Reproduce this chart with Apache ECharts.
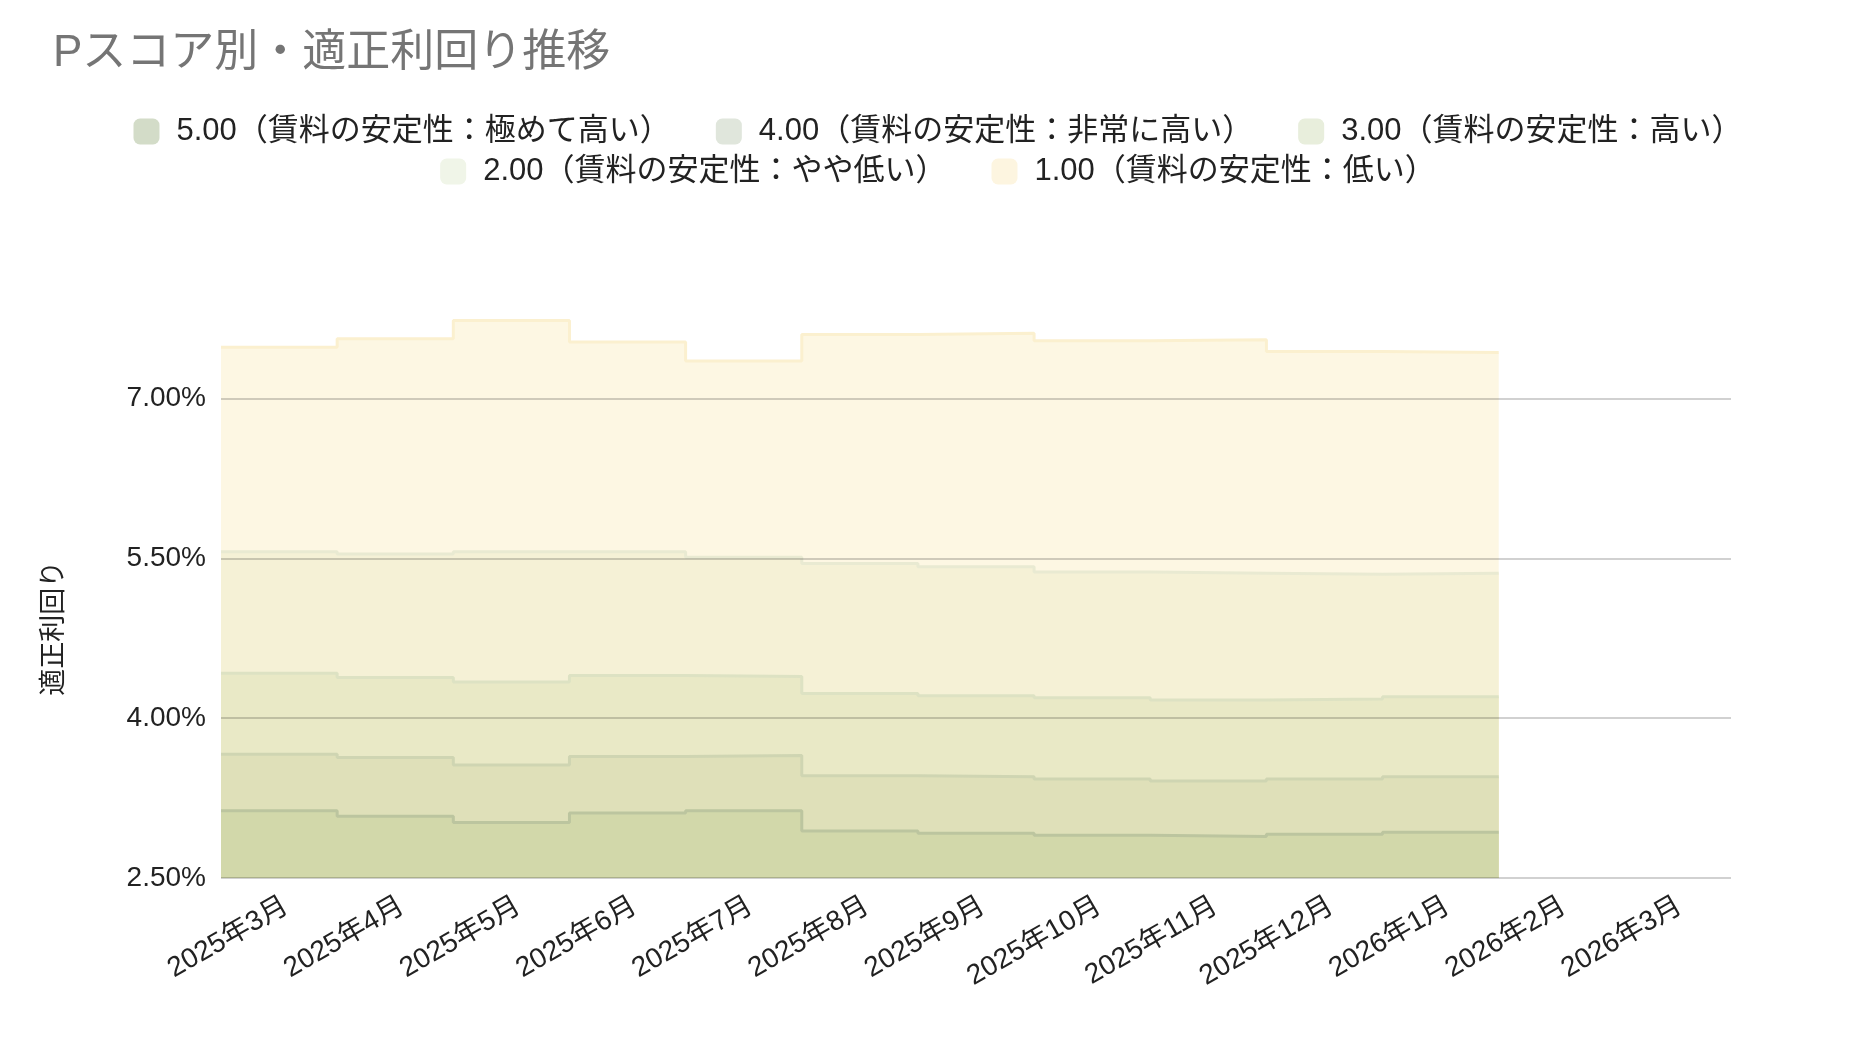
<!DOCTYPE html>
<html>
<head>
<meta charset="utf-8">
<title>Pスコア別・適正利回り推移</title>
<script src="https://cdn.jsdelivr.net/npm/echarts@6/dist/echarts.min.js"></script>
<style>
  html, body { margin: 0; padding: 0; background: #fff; }
  #chart { width: 1876px; height: 1044px; }
</style>
</head>
<body>
<div id="chart"></div>
<script>
// months on the x axis
const months = ['2025年3月', '2025年4月', '2025年5月', '2025年6月', '2025年7月', '2025年8月',
  '2025年9月', '2025年10月', '2025年11月', '2025年12月', '2026年1月', '2026年2月', '2026年3月']

const seriesNames = [
  '5.00（賃料の安定性：極めて高い）',
  '4.00（賃料の安定性：非常に高い）',
  '3.00（賃料の安定性：高い）',
  '2.00（賃料の安定性：やや低い）',
  '1.00（賃料の安定性：低い）'
]

// yields in %, Mar 2025 .. Jan 2026
const score5 = [3.13, 3.08, 3.02, 3.11, 3.13, 2.94, 2.92, 2.90, 2.89, 2.91, 2.93]
const score4 = [3.66, 3.63, 3.56, 3.64, 3.65, 3.46, 3.45, 3.43, 3.41, 3.43, 3.45]
const score3 = [4.42, 4.38, 4.34, 4.40, 4.39, 4.23, 4.21, 4.19, 4.17, 4.18, 4.20]
const score2 = [5.56, 5.54, 5.56, 5.56, 5.51, 5.45, 5.42, 5.37, 5.36, 5.35, 5.36]
const score1 = [7.48, 7.56, 7.73, 7.53, 7.35, 7.60, 7.61, 7.54, 7.55, 7.44, 7.43]

const swatchColors = ['#d3dcc8', '#e0e6dc', '#e8eedc', '#f0f5e8', '#fdf5e0']
const areaColors = ['#d2d8aa', '#dfe0b9', '#e9e9c6', '#f5f1d6', '#fdf7e3']
const lineColors = ['#bcc59f', '#cfd5b2', '#dde2c3', '#e9ead2', '#fbf0cf']

const FONT = "'Liberation Sans', 'Noto Sans CJK JP', sans-serif"

// each month spans its whole category band: points at band edges, step at the edge
function toSteps (values) {
  let pts = values.map(function (v, i) { return [i - 0.5, v] })
  pts.push([values.length - 0.5, values[values.length - 1]])
  return pts
}

const allValues = [score5, score4, score3, score2, score1]

let series = []
// draw the highest (1.00) first so lower bands sit on top
for (let k = allValues.length - 1; k >= 0; k--) {
  series.push({
    name: seriesNames[k],
    type: 'line',
    xAxisIndex: 1,
    step: 'end',
    showSymbol: false,
    data: toSteps(allValues[k]),
    itemStyle: { color: swatchColors[k] },
    lineStyle: { color: lineColors[k], width: 3 },
    areaStyle: { color: areaColors[k], opacity: 1, origin: 'start' },
    z: 2 + (allValues.length - k)
  })
}

function legendData (idx) {
  return idx.map(function (k) {
    return { name: seriesNames[k], itemStyle: { color: swatchColors[k], borderWidth: 0 } }
  })
}

const legendBase = {
  icon: 'roundRect',
  itemWidth: 26,
  itemHeight: 26,
  itemGap: 45,
  left: 'center',
  textStyle: { fontSize: 31, color: '#222', fontFamily: FONT, padding: [0, 0, 0, 12] }
}

const chart = echarts.init(document.getElementById('chart'))
chart.setOption({
  backgroundColor: '#fff',
  animation: false,
  title: {
    text: 'Pスコア別・適正利回り推移',
    left: 48,
    top: 27,
    textStyle: { fontSize: 44, fontWeight: 'normal', color: '#757575', fontFamily: FONT }
  },
  legend: [
    Object.assign({}, legendBase, { top: 111, data: legendData([0, 1, 2]) }),
    Object.assign({}, legendBase, { top: 151, data: legendData([3, 4]) })
  ],
  grid: { left: 221, right: 145, top: 238.5, bottom: 166, containLabel: false },
  xAxis: [
    {
      type: 'category',
      data: months,
      boundaryGap: true,
      axisLine: { show: false },
      axisTick: { show: false },
      axisLabel: {
        rotate: 30, fontSize: 28, color: '#222', margin: 14, fontFamily: FONT,
        interval: 0, verticalAlign: 'top'
      }
    },
    {
      type: 'value',
      min: -0.5,
      max: months.length - 0.5,
      show: false
    }
  ],
  yAxis: {
    type: 'value',
    min: 2.5,
    max: 8.5,
    interval: 1.5,
    z: 20,
    name: '適正利回り',
    nameLocation: 'middle',
    nameRotate: 90,
    nameGap: 153,
    nameTextStyle: { fontSize: 27, color: '#222', fontFamily: FONT, padding: [0, 140, 0, 0] },
    axisLine: { show: false },
    axisTick: { show: false },
    axisLabel: {
      fontSize: 28,
      color: '#222',
      margin: 15,
      fontFamily: FONT,
      showMaxLabel: false,
      formatter: function (v) { return v.toFixed(2) + '%' }
    },
    splitLine: { showMaxLine: false, lineStyle: { color: 'rgba(0,0,0,0.18)', width: 2 } }
  },
  series: series
})
</script>
</body>
</html>
